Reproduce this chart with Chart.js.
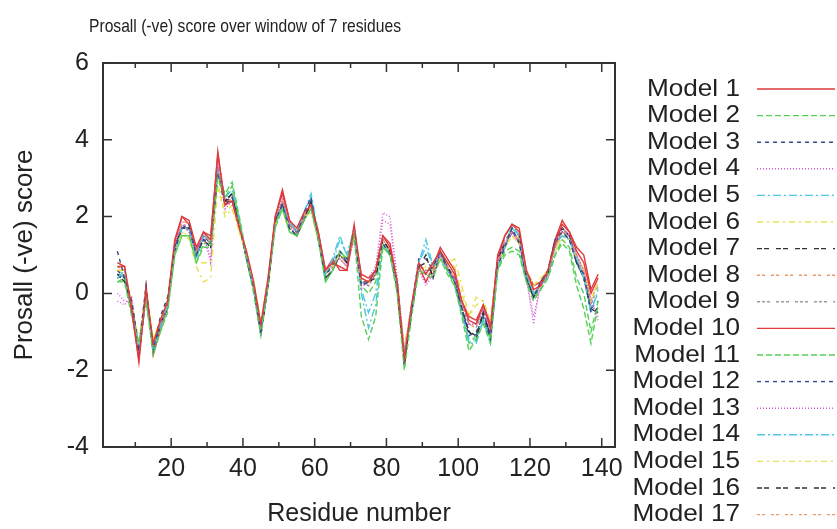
<!DOCTYPE html>
<html>
<head>
<meta charset="utf-8">
<script src="https://cdn.jsdelivr.net/npm/chart.js@4.4.1/dist/chart.umd.min.js"></script>
<style>
  html, body { margin: 0; padding: 0; background: #fff; }
  #wrap { width: 837px; height: 529px; }
</style>
</head>
<body>
<div id="wrap"><canvas id="prosa"></canvas></div>
<script>
// residue numbers (centre of the 7-residue window)
const residues = [5, 7, 9, 11, 13, 15, 17, 19, 21, 23, 25, 27, 29, 31, 33, 35, 37,
  39, 41, 43, 45, 47, 49, 51, 53, 55, 57, 59, 61, 63, 65, 67, 69, 71,
  73, 75, 77, 79, 81, 83, 85, 87, 89, 91, 93, 95, 97, 99, 101, 103, 105,
  107, 109, 111, 113, 115, 117, 119, 121, 123, 125, 127, 129, 131, 133, 135, 137, 139];

const model1 = [0.7, 0.7, -0.4, -1.8, 0.1, -1.3, -0.7, -0.2, 1.4, 2.0, 1.9, 1.2, 1.6, 1.4, 3.7, 2.3, 2.4,
  1.7, 1.1, 0.3, -0.8, 0.4, 2.0, 2.6, 1.9, 1.7, 2.1, 2.3, 1.6, 0.6, 0.8, 0.7, 0.6, 1.8,
  0.4, 0.3, 0.6, 1.5, 1.2, 0.3, -1.7, -0.3, 0.8, 0.5, 0.8, 1.1, 0.8, 0.5, -0.2, -0.7, -0.8,
  -0.3, -0.9, 1.0, 1.5, 1.8, 1.6, 0.6, 0.1, 0.2, 0.6, 1.3, 1.8, 1.6, 1.1, 0.8, 0.0, 0.4];
const model2 = [0.3, 0.3, -0.6, -1.3, -0.2, -1.6, -1.0, -0.5, 1.0, 1.5, 1.5, 0.8, 1.2, 1.2, 3.0, 2.5, 2.8,
  1.9, 0.9, 0.0, -1.1, 0.2, 1.8, 2.2, 1.6, 1.5, 1.9, 2.2, 1.4, 0.3, 0.6, 1.1, 0.9, 1.5,
  -0.6, -1.2, -0.6, 1.2, 1.0, 0.0, -2.0, -0.6, 0.6, 0.5, 0.4, 0.9, 0.6, 0.2, -0.6, -1.5, -1.2,
  -0.8, -1.3, 0.6, 1.0, 1.1, 1.0, 0.3, -0.2, 0.1, 0.4, 1.0, 1.3, 1.1, 0.2, -0.4, -1.3, -0.3];
const model3 = [1.1, 0.4, -0.2, -1.4, 0.2, -1.5, -0.6, -0.1, 1.1, 1.7, 1.8, 1.0, 1.4, 1.3, 3.1, 2.3, 2.5,
  1.8, 0.9, 0.1, -1.0, 0.2, 1.9, 2.3, 1.7, 1.5, 2.1, 2.5, 1.4, 0.4, 0.8, 1.1, 0.9, 1.5,
  0.2, 0.3, 0.6, 1.3, 1.0, 0.3, -1.9, -0.5, 0.8, 0.5, 0.7, 1.1, 0.6, 0.3, -0.4, -1.1, -1.0,
  -0.6, -1.2, 0.7, 1.2, 1.7, 1.3, 0.4, -0.1, 0.3, 0.6, 1.4, 1.6, 1.4, 0.8, 0.5, -0.5, -0.4];
const model4 = [-0.2, -0.3, -0.1, -1.7, -0.1, -1.3, -0.8, -0.4, 1.3, 1.9, 1.6, 1.1, 1.6, 0.8, 3.4, 2.2, 2.4,
  1.8, 1.1, 0.2, -0.8, 0.4, 1.9, 2.5, 1.8, 1.5, 2.0, 2.2, 1.5, 0.6, 0.8, 0.9, 0.7, 1.4,
  0.1, 0.4, 0.7, 2.1, 2.0, 0.4, -1.5, -0.3, 0.6, 0.2, 0.5, 1.0, 0.6, 0.4, -0.2, -0.8, -0.8,
  -0.4, -1.0, 0.8, 1.4, 1.6, 1.3, 0.4, -0.8, 0.3, 0.4, 1.2, 1.7, 1.5, 1.0, 0.6, -0.2, -0.7];
const model5 = [0.4, 0.6, -0.4, -1.4, 0.0, -1.5, -0.9, -0.3, 1.1, 1.7, 1.7, 0.9, 1.5, 1.4, 3.2, 2.5, 2.7,
  1.9, 1.0, 0.1, -1.0, 0.3, 1.8, 2.3, 1.9, 1.6, 2.1, 2.6, 1.6, 0.5, 0.9, 1.5, 1.0, 1.7,
  0.0, -0.9, -0.3, 1.3, 1.0, 0.2, -1.6, -0.4, 0.8, 1.4, 0.7, 1.0, 0.6, 0.3, -0.5, -1.3, -1.3,
  -0.7, -1.3, 0.7, 1.2, 1.8, 1.5, 0.5, 0.0, 0.2, 0.5, 1.3, 1.5, 1.4, 0.9, 0.4, -0.5, 0.1];
const model6 = [0.6, 0.6, -0.2, -1.3, 0.1, -1.2, -0.7, -0.2, 1.0, 1.6, 1.4, 0.7, 0.3, 0.4, 2.8, 2.0, 2.2,
  1.6, 1.0, 0.3, -0.7, 0.4, 1.8, 2.2, 1.7, 1.7, 2.0, 2.1, 1.4, 0.6, 0.7, 1.0, 0.9, 1.4,
  0.4, 0.3, 0.6, 1.3, 1.0, 0.3, -1.4, -0.3, 0.6, 0.7, 0.6, 0.9, 0.8, 0.9, 0.2, -0.6, -0.1,
  -0.2, -0.7, 0.7, 1.2, 1.5, 1.3, 0.6, 0.2, 0.4, 0.6, 1.1, 1.5, 1.4, 0.9, 0.6, -0.2, 0.3];
const model7 = [0.5, 0.3, -0.3, -1.6, -0.1, -1.5, -0.8, -0.4, 1.2, 1.7, 1.7, 1.0, 1.4, 1.2, 3.2, 2.4, 2.6,
  1.8, 0.9, 0.1, -1.1, 0.2, 1.9, 2.3, 1.7, 1.5, 1.9, 2.4, 1.5, 0.4, 0.6, 1.0, 0.8, 1.7,
  0.3, 0.3, 0.4, 1.4, 1.1, 0.1, -1.8, -0.5, 0.7, 1.0, 0.4, 1.1, 0.7, 0.3, -0.4, -1.0, -1.2,
  -0.5, -1.1, 0.9, 1.3, 1.7, 1.5, 0.4, -0.1, 0.3, 0.5, 1.4, 1.7, 1.5, 0.8, 0.4, -0.4, -0.5];
const model8 = [0.7, 0.6, -0.2, -1.5, 0.1, -1.3, -0.7, -0.3, 1.3, 1.9, 1.8, 1.1, 1.6, 1.3, 3.4, 2.3, 2.5,
  1.8, 1.0, 0.2, -0.9, 0.3, 1.9, 2.4, 1.9, 1.7, 2.0, 2.3, 1.5, 0.5, 0.7, 0.9, 0.7, 1.6,
  0.4, 0.3, 0.5, 1.4, 1.1, 0.2, -1.6, -0.4, 0.7, 0.6, 0.6, 1.0, 0.7, 0.5, -0.2, -0.7, -0.8,
  -0.3, -0.9, 0.8, 1.4, 1.6, 1.4, 0.6, 0.0, 0.2, 0.5, 1.2, 1.6, 1.6, 1.0, 0.6, -0.2, 0.3];
const model9 = [0.4, 0.5, -0.3, -1.4, 0.0, -1.4, -0.8, -0.2, 1.2, 1.8, 1.6, 1.0, 1.5, 1.3, 3.2, 2.4, 2.6,
  1.8, 1.0, 0.2, -1.0, 0.3, 1.9, 2.4, 1.8, 1.6, 2.0, 2.3, 1.5, 0.5, 0.7, 1.0, 0.8, 1.6,
  0.3, 0.2, 0.5, 1.4, 1.1, 0.2, -1.6, -0.4, 0.7, 0.6, 0.6, 1.0, 0.7, 0.4, -0.3, -0.8, -0.9,
  -0.4, -1.0, 0.8, 1.3, 1.6, 1.4, 0.5, 0.0, 0.2, 0.5, 1.2, 1.6, 1.5, 0.9, 0.5, -0.3, 0.2];
const model10 = [0.8, 0.7, -0.5, -1.7, 0.2, -1.6, -0.9, -0.3, 1.3, 2.0, 1.8, 1.1, 1.6, 1.5, 3.6, 2.4, 2.4,
  1.7, 1.0, 0.2, -1.0, 0.3, 2.0, 2.7, 1.9, 1.6, 2.0, 2.3, 1.6, 0.6, 0.9, 0.6, 0.6, 1.6,
  0.5, 0.4, 0.6, 1.5, 1.3, 0.3, -1.7, -0.4, 0.7, 0.3, 0.7, 1.2, 0.9, 0.6, -0.2, -0.6, -0.7,
  -0.3, -0.8, 0.9, 1.5, 1.8, 1.7, 0.6, 0.2, 0.3, 0.6, 1.4, 1.9, 1.6, 1.2, 1.0, 0.1, 0.5];
const model11 = [0.3, 0.4, -0.5, -1.3, -0.1, -1.5, -1.0, -0.4, 1.0, 1.5, 1.5, 0.8, 1.3, 1.3, 3.1, 2.6, 2.9,
  2.0, 1.0, 0.1, -1.0, 0.2, 1.7, 2.2, 1.6, 1.5, 1.9, 2.2, 1.4, 0.3, 0.6, 1.1, 0.9, 1.5,
  0.2, 0.0, 0.3, 1.2, 1.0, 0.1, -1.8, -0.5, 0.6, 0.5, 0.5, 0.9, 0.5, 0.2, -0.5, -1.3, -1.1,
  -0.7, -1.2, 0.6, 1.1, 1.2, 1.1, 0.3, -0.1, 0.1, 0.4, 1.0, 1.4, 1.2, 0.4, 0.0, -1.0, -0.2];
const model12 = [0.6, 0.4, -0.3, -1.5, 0.1, -1.4, -0.7, -0.2, 1.2, 1.7, 1.8, 1.0, 1.5, 1.3, 3.2, 2.4, 2.5,
  1.8, 1.0, 0.2, -1.0, 0.2, 1.8, 2.4, 1.7, 1.6, 2.0, 2.4, 1.5, 0.5, 0.7, 1.1, 0.8, 1.6,
  0.2, 0.3, 0.5, 1.3, 1.0, 0.2, -1.7, -0.4, 0.9, 0.9, 0.6, 1.1, 0.7, 0.4, -0.4, -1.0, -1.1,
  -0.5, -1.1, 0.8, 1.2, 1.6, 1.4, 0.4, -0.1, 0.2, 0.5, 1.3, 1.6, 1.4, 0.8, 0.5, -0.4, -0.2];
const model13 = [0.0, -0.2, -0.2, -1.6, 0.0, -1.3, -0.7, -0.3, 1.2, 1.8, 1.6, 1.0, 1.5, 0.9, 3.3, 2.3, 2.5,
  1.8, 1.0, 0.2, -0.8, 0.3, 1.9, 2.4, 1.8, 1.6, 2.0, 2.2, 1.5, 0.5, 0.7, 0.9, 0.7, 1.5,
  0.2, 0.3, 0.6, 1.9, 1.8, 0.3, -1.5, -0.3, 0.6, 0.3, 0.5, 1.0, 0.6, 0.4, -0.2, -0.8, -0.8,
  -0.4, -1.0, 0.8, 1.3, 1.6, 1.3, 0.4, -0.6, 0.2, 0.4, 1.2, 1.6, 1.5, 1.0, 0.5, -0.2, -0.6];
const model14 = [0.4, 0.5, -0.3, -1.4, 0.0, -1.5, -0.8, -0.2, 1.1, 1.7, 1.7, 0.9, 1.5, 1.4, 3.2, 2.5, 2.6,
  1.9, 1.0, 0.2, -1.0, 0.3, 1.8, 2.3, 1.8, 1.6, 2.1, 2.5, 1.5, 0.5, 0.8, 1.4, 1.0, 1.6,
  0.1, -0.5, 0.0, 1.3, 1.0, 0.2, -1.6, -0.4, 0.8, 1.2, 0.7, 1.0, 0.6, 0.3, -0.5, -1.2, -1.2,
  -0.6, -1.2, 0.7, 1.2, 1.7, 1.5, 0.5, 0.0, 0.2, 0.5, 1.3, 1.5, 1.4, 0.9, 0.4, -0.4, 0.0];
const model15 = [0.6, 0.5, -0.2, -1.3, 0.1, -1.2, -0.7, -0.2, 1.0, 1.6, 1.5, 0.8, 0.8, 0.8, 2.9, 2.1, 2.3,
  1.6, 1.0, 0.3, -0.8, 0.4, 1.8, 2.2, 1.7, 1.7, 2.0, 2.2, 1.4, 0.6, 0.7, 1.0, 0.9, 1.4,
  0.4, 0.3, 0.6, 1.3, 1.0, 0.3, -1.5, -0.3, 0.6, 0.7, 0.6, 0.9, 0.8, 0.7, 0.0, -0.6, -0.3,
  -0.2, -0.8, 0.7, 1.2, 1.5, 1.3, 0.6, 0.2, 0.4, 0.6, 1.1, 1.5, 1.4, 0.9, 0.6, -0.2, 0.3];
const model16 = [0.5, 0.4, -0.3, -1.5, 0.0, -1.4, -0.8, -0.3, 1.2, 1.7, 1.7, 1.0, 1.4, 1.2, 3.2, 2.4, 2.6,
  1.8, 0.9, 0.1, -1.0, 0.2, 1.9, 2.3, 1.7, 1.5, 1.9, 2.4, 1.5, 0.4, 0.6, 1.0, 0.8, 1.6,
  0.3, 0.3, 0.5, 1.4, 1.1, 0.1, -1.8, -0.5, 0.7, 0.8, 0.5, 1.0, 0.7, 0.3, -0.4, -1.0, -1.1,
  -0.5, -1.1, 0.9, 1.3, 1.6, 1.4, 0.4, -0.1, 0.3, 0.5, 1.3, 1.7, 1.5, 0.8, 0.4, -0.4, -0.4];
const model17 = [0.6, 0.6, -0.3, -1.5, 0.0, -1.3, -0.7, -0.3, 1.2, 1.8, 1.7, 1.0, 1.5, 1.3, 3.3, 2.3, 2.5,
  1.8, 1.0, 0.2, -0.9, 0.3, 1.9, 2.4, 1.8, 1.6, 2.0, 2.3, 1.5, 0.5, 0.7, 1.0, 0.8, 1.6,
  0.3, 0.2, 0.5, 1.4, 1.1, 0.2, -1.6, -0.4, 0.7, 0.6, 0.6, 1.0, 0.7, 0.4, -0.3, -0.8, -0.9,
  -0.4, -1.0, 0.8, 1.4, 1.6, 1.4, 0.5, 0.0, 0.2, 0.5, 1.2, 1.6, 1.5, 1.0, 0.6, -0.2, 0.3];

const modelNames = ['Model 1', 'Model 2', 'Model 3', 'Model 4', 'Model 5', 'Model 6', 'Model 7', 'Model 8', 'Model 9',
  'Model 10', 'Model 11', 'Model 12', 'Model 13', 'Model 14', 'Model 15', 'Model 16', 'Model 17'];
const modelValues = [model1, model2, model3, model4, model5, model6, model7, model8, model9,
  model10, model11, model12, model13, model14, model15, model16, model17];

const xTickValues = [20, 40, 60, 80, 100, 120, 140];
const xMinorTicks = [10, 30, 50, 70, 90, 110, 130];
const yTickValues = [-4, -2, 0, 2, 4, 6];

// gnuplot-like line types, repeating every 9
const lineColors = ['#e03a3a', '#55d055', '#3a4a8a', '#d85ad8', '#4cc8e0', '#e8e050', '#30303c', '#e89a6a', '#9a9aa0'];
const lineDashes = [[], [6, 3], [4, 4], [1, 2], [8, 3, 2, 3], [6, 4, 2, 4], [5, 2, 5, 7], [3, 2, 3, 6], [3, 2, 3, 2, 3, 6]];

const FONT = "'Liberation Sans', Arial, sans-serif";

const datasets = modelNames.map((name, i) => ({
  label: name,
  data: residues.map((r, j) => ({ x: r, y: modelValues[i][j] })),
  borderColor: lineColors[i % 9],
  borderDash: lineDashes[i % 9],
  borderWidth: 1.4,
  pointRadius: 0,
  tension: 0,
  fill: false
}));

// draws text squeezed/stretched horizontally to a given width
function fitText(c, text, x, y, width, align) {
  const w = c.measureText(text).width;
  const k = width / w;
  c.save();
  c.textAlign = 'left';
  const x0 = align === 'right' ? x - width : x;
  c.translate(x0, y);
  c.scale(k, 1);
  c.fillText(text, 0, 0);
  c.restore();
}

// box with inward ticks on all four sides, like gnuplot
const frame = {
  id: 'frame',
  afterDraw(chart) {
    const c = chart.ctx;
    const a = chart.chartArea;
    const xs = chart.scales.x, ys = chart.scales.y;
    c.save();
    c.strokeStyle = '#333';
    c.lineWidth = 2;
    c.strokeRect(a.left, a.top, a.right - a.left, a.bottom - a.top);
    c.lineWidth = 1.5;
    c.beginPath();
    xTickValues.forEach(v => {
      const px = xs.getPixelForValue(v);
      c.moveTo(px, a.bottom); c.lineTo(px, a.bottom - 9);
      c.moveTo(px, a.top); c.lineTo(px, a.top + 9);
    });
    xMinorTicks.forEach(v => {
      const px = xs.getPixelForValue(v);
      c.moveTo(px, a.bottom); c.lineTo(px, a.bottom - 5);
      c.moveTo(px, a.top); c.lineTo(px, a.top + 5);
    });
    yTickValues.forEach(v => {
      const py = ys.getPixelForValue(v);
      c.moveTo(a.left, py); c.lineTo(a.left + 9, py);
      c.moveTo(a.right, py); c.lineTo(a.right - 9, py);
    });
    c.stroke();

    // title
    c.fillStyle = '#222';
    c.font = '19px ' + FONT;
    c.textBaseline = 'middle';
    fitText(c, 'Prosall (-ve) score over window of 7 residues', 89, 27, 312, 'left');

    // key on the right
    c.font = '24px ' + FONT;
    chart.data.datasets.forEach((ds, i) => {
      const y = 89 + i * 26.6;
      c.fillStyle = '#222';
      const w = c.measureText(ds.label).width * 1.09;
      fitText(c, ds.label, 740, y, w, 'right');
      c.strokeStyle = ds.borderColor;
      c.lineWidth = 1.4;
      c.setLineDash(ds.borderDash);
      c.beginPath();
      c.moveTo(757, y); c.lineTo(835, y);
      c.stroke();
      c.setLineDash([]);
    });
    c.restore();
  }
};

new Chart(document.getElementById('prosa'), {
  type: 'line',
  data: { datasets: datasets },
  options: {
    responsive: true,
    maintainAspectRatio: false,
    animation: false,
    events: [],
    layout: { padding: { top: 63, right: 222, left: 0, bottom: 0 } },
    plugins: {
      legend: { display: false },
      title: { display: false },
      tooltip: { enabled: false }
    },
    scales: {
      x: {
        type: 'linear',
        min: 1,
        max: 143.7,
        afterBuildTicks: s => { s.ticks = xTickValues.map(v => ({ value: v })); },
        afterFit: s => { s.height = 82; },
        grid: { display: false, drawTicks: false },
        border: { display: false },
        ticks: { color: '#222', font: { family: FONT, size: 25 }, padding: 7, maxRotation: 0 },
        title: { display: true, text: 'Residue number', color: '#222', font: { family: FONT, size: 25 }, padding: 0 }
      },
      y: {
        min: -4,
        max: 6,
        afterBuildTicks: s => { s.ticks = yTickValues.map(v => ({ value: v })); },
        afterFit: s => { s.width = 103; },
        grid: { display: false, drawTicks: false },
        border: { display: false },
        ticks: { color: '#222', font: { family: FONT, size: 25 }, padding: 14 },
        title: { display: true, text: 'Prosall (-ve) score', color: '#222', font: { family: FONT, size: 26 }, padding: { top: 9, bottom: 0 } }
      }
    }
  },
  plugins: [frame]
});
</script>
</body>
</html>
